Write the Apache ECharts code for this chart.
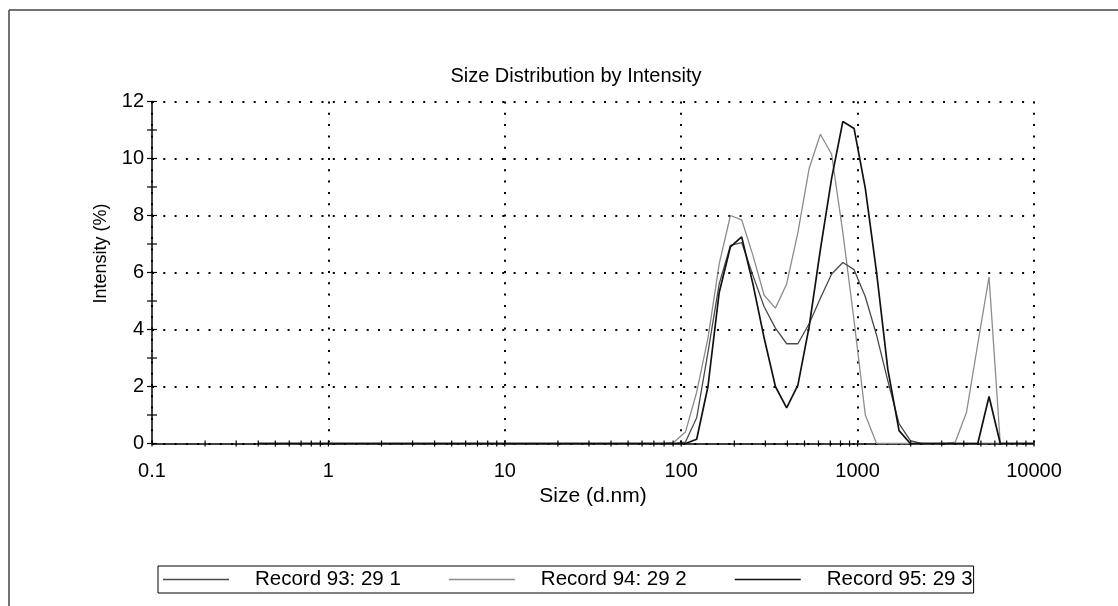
<!DOCTYPE html>
<html>
<head>
<meta charset="utf-8">
<title>Size Distribution by Intensity</title>
<script src="https://cdn.jsdelivr.net/npm/echarts@6/dist/echarts.min.js"></script>
<style>
  html, body { margin: 0; padding: 0; background: #fff; }
  #chart { width: 1118px; height: 606px; }
</style>
</head>
<body>
<div id="chart"></div>
<script>
// Size classes (d.nm) of the distribution
const sizes = [
  0.4, 0.4632, 0.5365, 0.6213, 0.7195, 0.8332, 0.9649, 1.117, 1.294, 1.499,
  1.736, 2.01, 2.328, 2.696, 3.122, 3.615, 4.187, 4.849, 5.615, 6.503,
  7.531, 8.721, 10.1, 11.7, 13.54, 15.69, 18.17, 21.04, 24.36, 28.21,
  32.67, 37.84, 43.82, 50.75, 58.77, 68.06, 78.82, 91.28, 105.7, 122.4,
  141.8, 164.2, 190.1, 220.2, 255, 295.3, 342, 396.1, 458.7, 531.2,
  615.1, 712.4, 825, 955.4, 1106, 1281, 1484, 1718, 1990, 2305,
  2669, 3091, 3580, 4145, 4801, 5560, 6439, 7456, 8635, 10000
];

// Intensity (%) per size class
const record93 = [
  0, 0, 0, 0, 0, 0, 0, 0, 0, 0,
  0, 0, 0, 0, 0, 0, 0, 0, 0, 0,
  0, 0, 0, 0, 0, 0, 0, 0, 0, 0,
  0, 0, 0, 0, 0, 0, 0, 0, 0.05, 0.9,
  3.2, 5.6, 6.95, 7.05, 5.9, 4.8, 4.05, 3.5, 3.5, 4.2,
  5.1, 5.95, 6.35, 6.1, 5.15, 3.8, 2.2, 0.7, 0.1, 0,
  0, 0, 0, 0, 0, 0, 0, 0, 0, 0
];
const record94 = [
  0, 0, 0, 0, 0, 0, 0, 0, 0, 0,
  0, 0, 0, 0, 0, 0, 0, 0, 0, 0,
  0, 0, 0, 0, 0, 0, 0, 0, 0, 0,
  0, 0, 0, 0, 0, 0, 0, 0.05, 0.4, 1.8,
  3.7, 6.3, 8.0, 7.85, 6.6, 5.2, 4.75, 5.6, 7.4, 9.65,
  10.85, 10.15, 7.4, 4.3, 1.0, 0, 0, 0, 0, 0,
  0, 0, 0.05, 1.1, 3.5, 5.85, 0, 0, 0, 0
];
const record95 = [
  0, 0, 0, 0, 0, 0, 0, 0, 0, 0,
  0, 0, 0, 0, 0, 0, 0, 0, 0, 0,
  0, 0, 0, 0, 0, 0, 0, 0, 0, 0,
  0, 0, 0, 0, 0, 0, 0, 0, 0, 0.15,
  2.0, 5.3, 6.9, 7.25, 5.6, 3.7, 2.0, 1.25, 2.05, 4.1,
  6.8, 9.3, 11.3, 11.05, 8.95, 6.0, 2.6, 0.45, 0, 0,
  0, 0, 0, 0, 0, 1.65, 0, 0, 0, 0
];

const seriesNames = ['Record 93: 29 1', 'Record 94: 29 2', 'Record 95: 29 3'];
const xTickLabels = ['0.1', '1', '10', '100', '1000', '10000'];
const yTickLabels = ['0', '2', '4', '6', '8', '10', '12'];

const FONT = 'Liberation Sans, Arial, Helvetica, sans-serif';

function pairs(values) {
  return sizes.map(function (s, i) { return [s, values[i]]; });
}

// Cross-shaped tick marks: x ticks at 1..9 per decade, y ticks every unit
const tickMarks = [];
for (let e = -1; e <= 3; e++) {
  for (let m = 1; m <= 9; m++) {
    tickMarks.push([m * Math.pow(10, e), 0, 0]);
  }
}
tickMarks.push([10000, 0, 0]);
for (let v = 0; v <= 12; v++) {
  tickMarks.push([0.1, v, 1]);
}

const dotted = { color: '#000', width: 2, type: [2, 9.3] };

const chart = echarts.init(document.getElementById('chart'), null, { renderer: 'canvas' });

chart.setOption({
  animation: false,
  backgroundColor: '#fff',
  textStyle: { fontFamily: FONT, color: '#000' },
  title: {
    text: 'Size Distribution by Intensity',
    left: 576,
    top: 66,
    padding: 0,
    textAlign: 'center',
    textStyle: { fontFamily: FONT, fontSize: 20, fontWeight: 'normal', color: '#000' }
  },
  legend: {
    data: seriesNames,
    left: 158,
    top: 566,
    orient: 'horizontal',
    padding: [3, 1, 3, 5],
    borderColor: '#000',
    borderWidth: 1,
    icon: 'rect',
    itemWidth: 66,
    itemHeight: 1.5,
    itemGap: 48,
    selectedMode: false,
    textStyle: { fontFamily: FONT, fontSize: 20.5, color: '#000', padding: [0, 0, 0, 21] }
  },
  grid: { left: 152, right: 84, top: 101.5, bottom: 162.5, containLabel: false },
  xAxis: {
    type: 'log',
    logBase: 10,
    min: 0.1,
    max: 10000,
    name: 'Size (d.nm)',
    nameLocation: 'middle',
    nameGap: 42,
    nameTextStyle: { fontFamily: FONT, fontSize: 21, color: '#000' },
    axisLine: { show: true, onZero: false, lineStyle: { color: '#000', width: 1.5 } },
    axisTick: { show: false },
    axisLabel: {
      color: '#000',
      fontFamily: FONT,
      fontSize: 20,
      margin: 17.5,
      formatter: function (v) {
        const hit = xTickLabels.find(function (t) {
          return Math.abs(Math.log10(parseFloat(t)) - Math.log10(v)) < 1e-6;
        });
        return hit || '';
      }
    },
    splitLine: { show: true, lineStyle: dotted }
  },
  yAxis: {
    type: 'value',
    min: 0,
    max: 12,
    interval: 2,
    name: 'Intensity (%)',
    nameLocation: 'middle',
    nameGap: 42,
    nameTextStyle: { fontFamily: FONT, fontSize: 18, color: '#000', padding: [0, 0, 0, 38] },
    axisLine: { show: true, lineStyle: { color: '#000', width: 1.5 } },
    axisTick: { show: false },
    axisLabel: {
      color: '#000',
      fontFamily: FONT,
      fontSize: 20,
      margin: 8,
      formatter: function (v) {
        const s = String(v);
        return yTickLabels.indexOf(s) >= 0 ? s : '';
      }
    },
    splitLine: { show: true, lineStyle: dotted }
  },
  graphic: [
    { type: 'line', shape: { x1: 9, y1: 10, x2: 1118, y2: 10 }, style: { stroke: '#444', lineWidth: 1.5 }, silent: true },
    { type: 'line', shape: { x1: 9, y1: 10, x2: 9, y2: 606 }, style: { stroke: '#444', lineWidth: 1.5 }, silent: true }
  ],
  series: [
    {
      name: seriesNames[0],
      type: 'line',
      data: pairs(record93),
      symbol: 'none',
      smooth: false,
      color: '#4a4a4a',
      lineStyle: { color: '#4a4a4a', width: 1.3 },
      z: 3
    },
    {
      name: seriesNames[1],
      type: 'line',
      data: pairs(record94),
      symbol: 'none',
      smooth: false,
      color: '#8c8c8c',
      lineStyle: { color: '#8c8c8c', width: 1.3 },
      z: 2
    },
    {
      name: seriesNames[2],
      type: 'line',
      data: pairs(record95),
      symbol: 'none',
      smooth: false,
      color: '#111',
      lineStyle: { color: '#111', width: 1.7 },
      z: 4
    },
    {
      name: 'ticks',
      type: 'custom',
      silent: true,
      clip: false,
      z: 5,
      encode: { x: 0, y: 1 },
      data: tickMarks,
      renderItem: function (params, api) {
        const p = api.coord([api.value(0), api.value(1)]);
        const isX = api.value(2) === 0;
        const shape = isX
          ? { x1: p[0], y1: p[1] - 3, x2: p[0], y2: p[1] + 3 }
          : { x1: p[0] - 5, y1: p[1], x2: p[0] + 5, y2: p[1] };
        return { type: 'line', shape: shape, style: { stroke: '#000', lineWidth: 1.2 } };
      }
    }
  ]
});
</script>
</body>
</html>
